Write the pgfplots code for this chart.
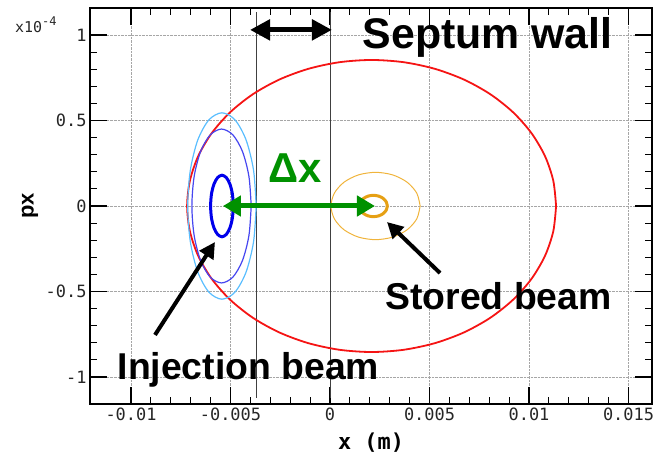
\documentclass[border=0pt]{standalone}
\usepackage{pgfplots}
\pgfplotsset{compat=1.18}
\usetikzlibrary{arrows.meta}
\usepackage{fontspec}
\setmainfont{Liberation Sans}
\setmonofont{DejaVu Sans Mono}
\definecolor{myred}{RGB}{245,20,20}
\definecolor{lblue}{RGB}{90,190,255}
\definecolor{mblue}{RGB}{70,70,240}
\definecolor{dblue}{RGB}{0,0,235}
\definecolor{lorange}{RGB}{240,180,60}
\definecolor{dorange}{RGB}{230,160,20}
\definecolor{mygreen}{RGB}{0,145,0}
\begin{document}
\begin{tikzpicture}
\useasboundingbox (-90bp,-54bp) rectangle (567bp,404bp);
\begin{axis}[
 at={(0,0)}, anchor=south west, scale only axis, width=562bp, height=396bp,
 xmin=-0.01206, xmax=0.01618, ymin=-1.158, ymax=1.158,
 xtick={-0.01,-0.005,0,0.005,0.01,0.015},
 xticklabels={-0.01,-0.005,0,0.005,0.01,0.015},
 ytick={-1,-0.5,0,0.5,1}, yticklabels={-1,-0.5,0,0.5,1},
 minor x tick num=4, minor y tick num=4,
 tick align=inside, major tick length=17bp, minor tick length=7bp,
 major tick style={line width=1.5bp, black},
 minor tick style={line width=1bp, black},
 axis line style={line width=1.8bp},
 grid=major, major grid style={densely dotted, black!35, line width=0.7bp},
 tick label style={font=\ttfamily\fontsize{17}{17}\selectfont, text=black!85},
 scaled ticks=false, clip=false,
]
% septum wall lines
\addplot[black!75, line width=0.9bp] coordinates {(-0.0037,1.134) (-0.0037,-1.123)};
\addplot[black!75, line width=0.9bp] coordinates {(0,1.134) (0,-1.123)};
% red acceptance
\addplot[myred, line width=1.8bp, smooth] coordinates {
(0.01136,0) (0.011219,0.1483) (0.010801,0.2921) (0.010118,0.4270) (0.009191,0.5489)
(0.008049,0.6542) (0.006725,0.7396) (0.005260,0.8025) (0.003699,0.8410) (0.00209,0.854)
(0.000481,0.8410) (-0.001080,0.8025) (-0.002545,0.7396) (-0.003869,0.6542) (-0.005011,0.5489)
(-0.005938,0.4270) (-0.006621,0.2921) (-0.007039,0.1483) (-0.00718,0)
(-0.007039,-0.1483) (-0.006621,-0.2921) (-0.005938,-0.4270) (-0.005011,-0.5489) (-0.003869,-0.6542)
(-0.002545,-0.7396) (-0.001080,-0.8025) (0.000481,-0.8410) (0.00209,-0.854) (0.003699,-0.8410)
(0.005260,-0.8025) (0.006725,-0.7396) (0.008049,-0.6542) (0.009191,-0.5489) (0.010118,-0.4270)
(0.010801,-0.2921) (0.011219,-0.1483) (0.01136,0)};
% light blue
\addplot[lblue, line width=1.2bp, smooth] coordinates {
(-0.00371,0) (-0.003841,0.2086) (-0.004214,0.3854) (-0.004772,0.5035) (-0.00543,0.545) (-0.006088,0.5035) (-0.006646,0.3854) (-0.007019,0.2086) (-0.00715,0) (-0.007019,-0.2086) (-0.006646,-0.3854) (-0.006088,-0.5035) (-0.00543,-0.545) (-0.004772,-0.5035) (-0.004214,-0.3854) (-0.003841,-0.2086) (-0.00371,0)};
% middle blue
\addplot[mblue, line width=1.2bp, smooth] coordinates {
(-0.00396,0) (-0.004073,0.1722) (-0.004396,0.3182) (-0.00488,0.4158) (-0.00545,0.45) (-0.00602,0.4158) (-0.006504,0.3182) (-0.006827,0.1722) (-0.00694,0) (-0.006827,-0.1722) (-0.006504,-0.3182) (-0.00602,-0.4158) (-0.00545,-0.45) (-0.00488,-0.4158) (-0.004396,-0.3182) (-0.004073,-0.1722) (-0.00396,0)};
% inner blue
\addplot[dblue, line width=3bp, smooth] coordinates {
(-0.00486,0) (-0.004903,0.0689) (-0.005027,0.1273) (-0.005212,0.1663) (-0.00543,0.18) (-0.005648,0.1663) (-0.005833,0.1273) (-0.005957,0.0689) (-0.006,0) (-0.005957,-0.0689) (-0.005833,-0.1273) (-0.005648,-0.1663) (-0.00543,-0.18) (-0.005212,-0.1663) (-0.005027,-0.1273) (-0.004903,-0.0689) (-0.00486,0)};
% outer orange
\addplot[lorange, line width=1bp, smooth] coordinates {
(0.00453,0) (0.00436,0.0754) (0.003874,0.1393) (0.003147,0.182) (0.00229,0.197) (0.001433,0.182) (0.000706,0.1393) (0.00022,0.0754) (0.00005,0) (0.00022,-0.0754) (0.000706,-0.1393) (0.001433,-0.182) (0.00229,-0.197) (0.003147,-0.182) (0.003874,-0.1393) (0.00436,-0.0754) (0.00453,0)};
% inner orange
\addplot[dorange, line width=3bp, smooth] coordinates {
(0.00288,0) (0.002827,0.0239) (0.002675,0.0442) (0.002448,0.0577) (0.00218,0.0625) (0.001912,0.0577) (0.001685,0.0442) (0.001533,0.0239) (0.00148,0) (0.001533,-0.0239) (0.001685,-0.0442) (0.001912,-0.0577) (0.00218,-0.0625) (0.002448,-0.0577) (0.002675,-0.0442) (0.002827,-0.0239) (0.00288,0)};
% annotations
\draw[mygreen, line width=5bp, {Triangle[length=18bp,width=20bp]}-{Triangle[length=18bp,width=20bp]}] (axis cs:-0.00538,0) -- (axis cs:0.00226,0);
\draw[black, line width=5bp, {Triangle[length=20bp,width=20bp]}-{Triangle[length=20bp,width=20bp]}] (axis cs:-0.00402,1.03) -- (axis cs:0.0001,1.03);
\draw[black, line width=4bp, -{Triangle[length=16bp,width=16bp]}] (axis cs:-0.008794,-0.754) -- (axis cs:-0.005779,-0.2105);
\draw[black, line width=4bp, -{Triangle[length=16bp,width=16bp]}] (axis cs:0.005528,-0.392) -- (axis cs:0.002864,-0.0936);
\node[anchor=base, font=\bfseries\fontsize{43}{43}\selectfont, inner sep=0] at (axis cs:0.00792,0.924) {Septum wall};
\node[anchor=base, font=\bfseries\fontsize{37.5}{37.5}\selectfont, inner sep=0] at (axis cs:0.00847,-0.608) {Stored beam};
\node[anchor=base, font=\bfseries\fontsize{37.5}{37.5}\selectfont, inner sep=0] at (axis cs:-0.0041,-1.0175) {Injection beam};
\node[anchor=base, font=\bfseries\fontsize{42}{42}\selectfont, inner sep=0, text=mygreen] at (axis cs:-0.00176,0.1345) {Δx};
\node[anchor=base west, inner sep=0, font=\ttfamily\fontsize{15}{15}\selectfont, text=black!85] at (axis cs:-0.01583,1.012) {x10\raisebox{7bp}{\fontsize{12}{12}\selectfont -4}};
\node[anchor=base, font=\ttfamily\bfseries\fontsize{22}{22}\selectfont, inner sep=0] at (axis cs:0.00206,-1.427) {x (m)};
\node[rotate=90, font=\bfseries\fontsize{22}{22}\selectfont, inner sep=0] at (axis cs:-0.01508,0) {px};
\end{axis}
\end{tikzpicture}
\end{document}
